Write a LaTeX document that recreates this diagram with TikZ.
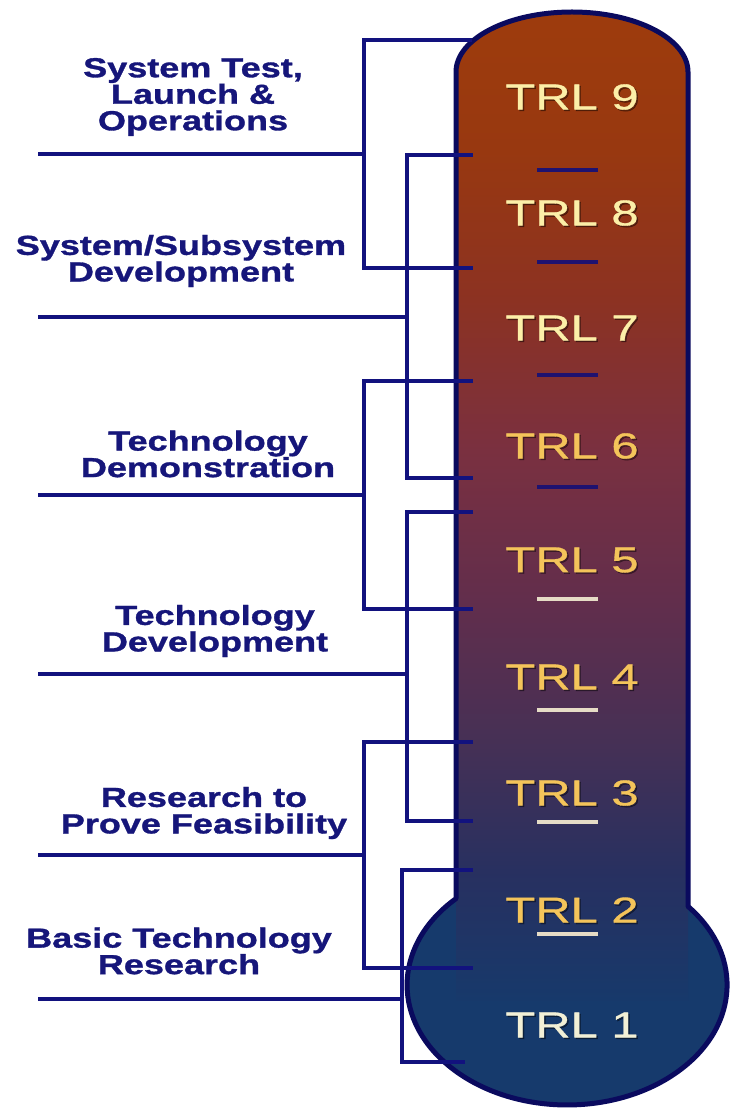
\documentclass[tikz,border=0pt]{standalone}
\usepackage{fontspec}
\newfontfamily\lblfont[FakeStretch=1.31,FakeBold=1.2]{Liberation Sans Bold}
\newfontfamily\trlfont[FakeStretch=1.36,FakeBold=0.9]{Liberation Sans}
\definecolor{navy}{HTML}{16167A}
\definecolor{outl}{HTML}{0A0A5E}
\definecolor{linec}{HTML}{12127E}
\definecolor{paleY}{HTML}{FCEFA8}
\definecolor{gold}{HTML}{F4C45A}
\definecolor{cream}{HTML}{F2F0D6}
\definecolor{dashdark}{HTML}{1E1270}
\definecolor{dashlight}{HTML}{E6DCC6}
\definecolor{bulbc}{HTML}{163A6C}
\definecolor{g0}{HTML}{9E3C0C}
\definecolor{g1}{HTML}{983810}
\definecolor{g2}{HTML}{8C3222}
\definecolor{g3}{HTML}{7A3040}
\definecolor{g4}{HTML}{622E4C}
\definecolor{g5}{HTML}{443056}
\definecolor{g6}{HTML}{283060}
\definecolor{g7}{HTML}{17396B}
\begin{document}
\begin{tikzpicture}[x=1pt,y=-1pt,
  bracket/.style={draw=linec, line width=4pt},
  lbl/.style={font=\lblfont\fontsize{27.5}{26.5}\selectfont, text=navy, align=center, inner sep=0pt},
  trl/.style={font=\trlfont\fontsize{36}{36}\selectfont, inner sep=0pt},
  tick/.style={line width=4pt}]
\useasboundingbox (0,0) rectangle (732,1115);
\fill[white] (0,0) rectangle (732,1115);
% thermometer body
\begin{scope}
  \clip (456,898.5) -- (456,72) arc[start angle=180,end angle=360,x radius=116,y radius=60]
        -- (688,906.4) arc[start angle=-40.9,end angle=226.1,x radius=160,y radius=120] -- cycle;
  \fill[bulbc] (380,0) rectangle (732,1115);
  \begin{scope}
    \clip (456,0) rectangle (688,1000);
    \shade[top color=g0, bottom color=g1] (456,0) rectangle (688,151);
    \shade[top color=g1, bottom color=g2] (456,150) rectangle (688,301);
    \shade[top color=g2, bottom color=g3] (456,300) rectangle (688,451);
    \shade[top color=g3, bottom color=g4] (456,450) rectangle (688,601);
    \shade[top color=g4, bottom color=g5] (456,600) rectangle (688,751);
    \shade[top color=g5, bottom color=g6] (456,750) rectangle (688,871);
    \shade[top color=g6, bottom color=g7] (456,870) rectangle (688,1000);
  \end{scope}
\end{scope}
\draw[outl, line width=5pt, line join=round]
  (456,898.5) -- (456,72) arc[start angle=180,end angle=360,x radius=116,y radius=60]
  -- (688,906.4) arc[start angle=-40.9,end angle=226.1,x radius=160,y radius=120] -- cycle;
% ticks
\foreach \yy/\cc in {170/dashdark, 262/dashdark, 375/dashdark, 487/dashdark,
                     599/dashlight, 710/dashlight, 822/dashlight, 934/dashlight}
  \draw[tick, \cc] (537,\yy) -- (598,\yy);
% TRL labels
\foreach \n/\yy/\cc in {9/97/paleY, 8/213/paleY, 7/328/paleY, 6/446/gold, 5/560/gold,
                        4/677/gold, 3/793/gold, 2/910/gold, 1/1025/cream}{
  \node[trl, text=black, opacity=0.4] (s\n) at (573.5,\yy+1.5) {TRL \n};
  \node[trl, text=\cc] (t\n) at (572,\yy) {TRL \n};
}
% coordinates for brackets
\coordinate (aT) at (472,40);  \coordinate (aTc) at (364,40);
\coordinate (aBc) at (364,268); \coordinate (aB) at (473,268);
\coordinate (aL) at (38,154);  \coordinate (aM) at (364,154);
\coordinate (bT) at (473,155); \coordinate (bTc) at (407,155);
\coordinate (bBc) at (407,478); \coordinate (bB) at (473,478);
\coordinate (bL) at (38,317);  \coordinate (bM) at (407,317);
\coordinate (cT) at (473,381); \coordinate (cTc) at (364,381);
\coordinate (cBc) at (364,609); \coordinate (cB) at (473,609);
\coordinate (cL) at (38,495);  \coordinate (cM) at (364,495);
\coordinate (dT) at (473,512); \coordinate (dTc) at (407,512);
\coordinate (dBc) at (407,821); \coordinate (dB) at (473,821);
\coordinate (dL) at (38,674);  \coordinate (dM) at (407,674);
\coordinate (eT) at (473,742); \coordinate (eTc) at (364,742);
\coordinate (eBc) at (364,968); \coordinate (eB) at (473,968);
\coordinate (eL) at (38,855);  \coordinate (eM) at (364,855);
\coordinate (fT) at (473,870); \coordinate (fTc) at (402,870);
\coordinate (fBc) at (402,1062); \coordinate (fB) at (465,1062);
\coordinate (fL) at (38,999);  \coordinate (fM) at (402,999);
\foreach \k in {a,b,c,d,e,f}{
  \draw[bracket] (\k T) -- (\k Tc) -- (\k Bc) -- (\k B);
  \draw[bracket] (\k L) -- (\k M);
}
% stage labels
\node[lbl] (la) at (193,97)  {System Test,\\Launch \&\\Operations};
\node[lbl] (lb) at (181,261) {System/Subsystem\\Development};
\node[lbl] (lc) at (208,454) {Technology\\Demonstration};
\node[lbl] (ld) at (215,631) {Technology\\Development};
\node[lbl] (le) at (204,813) {Research to\\Prove Feasibility};
\node[lbl] (lf) at (179,951) {Basic Technology\\Research};
\end{tikzpicture}
\end{document}
